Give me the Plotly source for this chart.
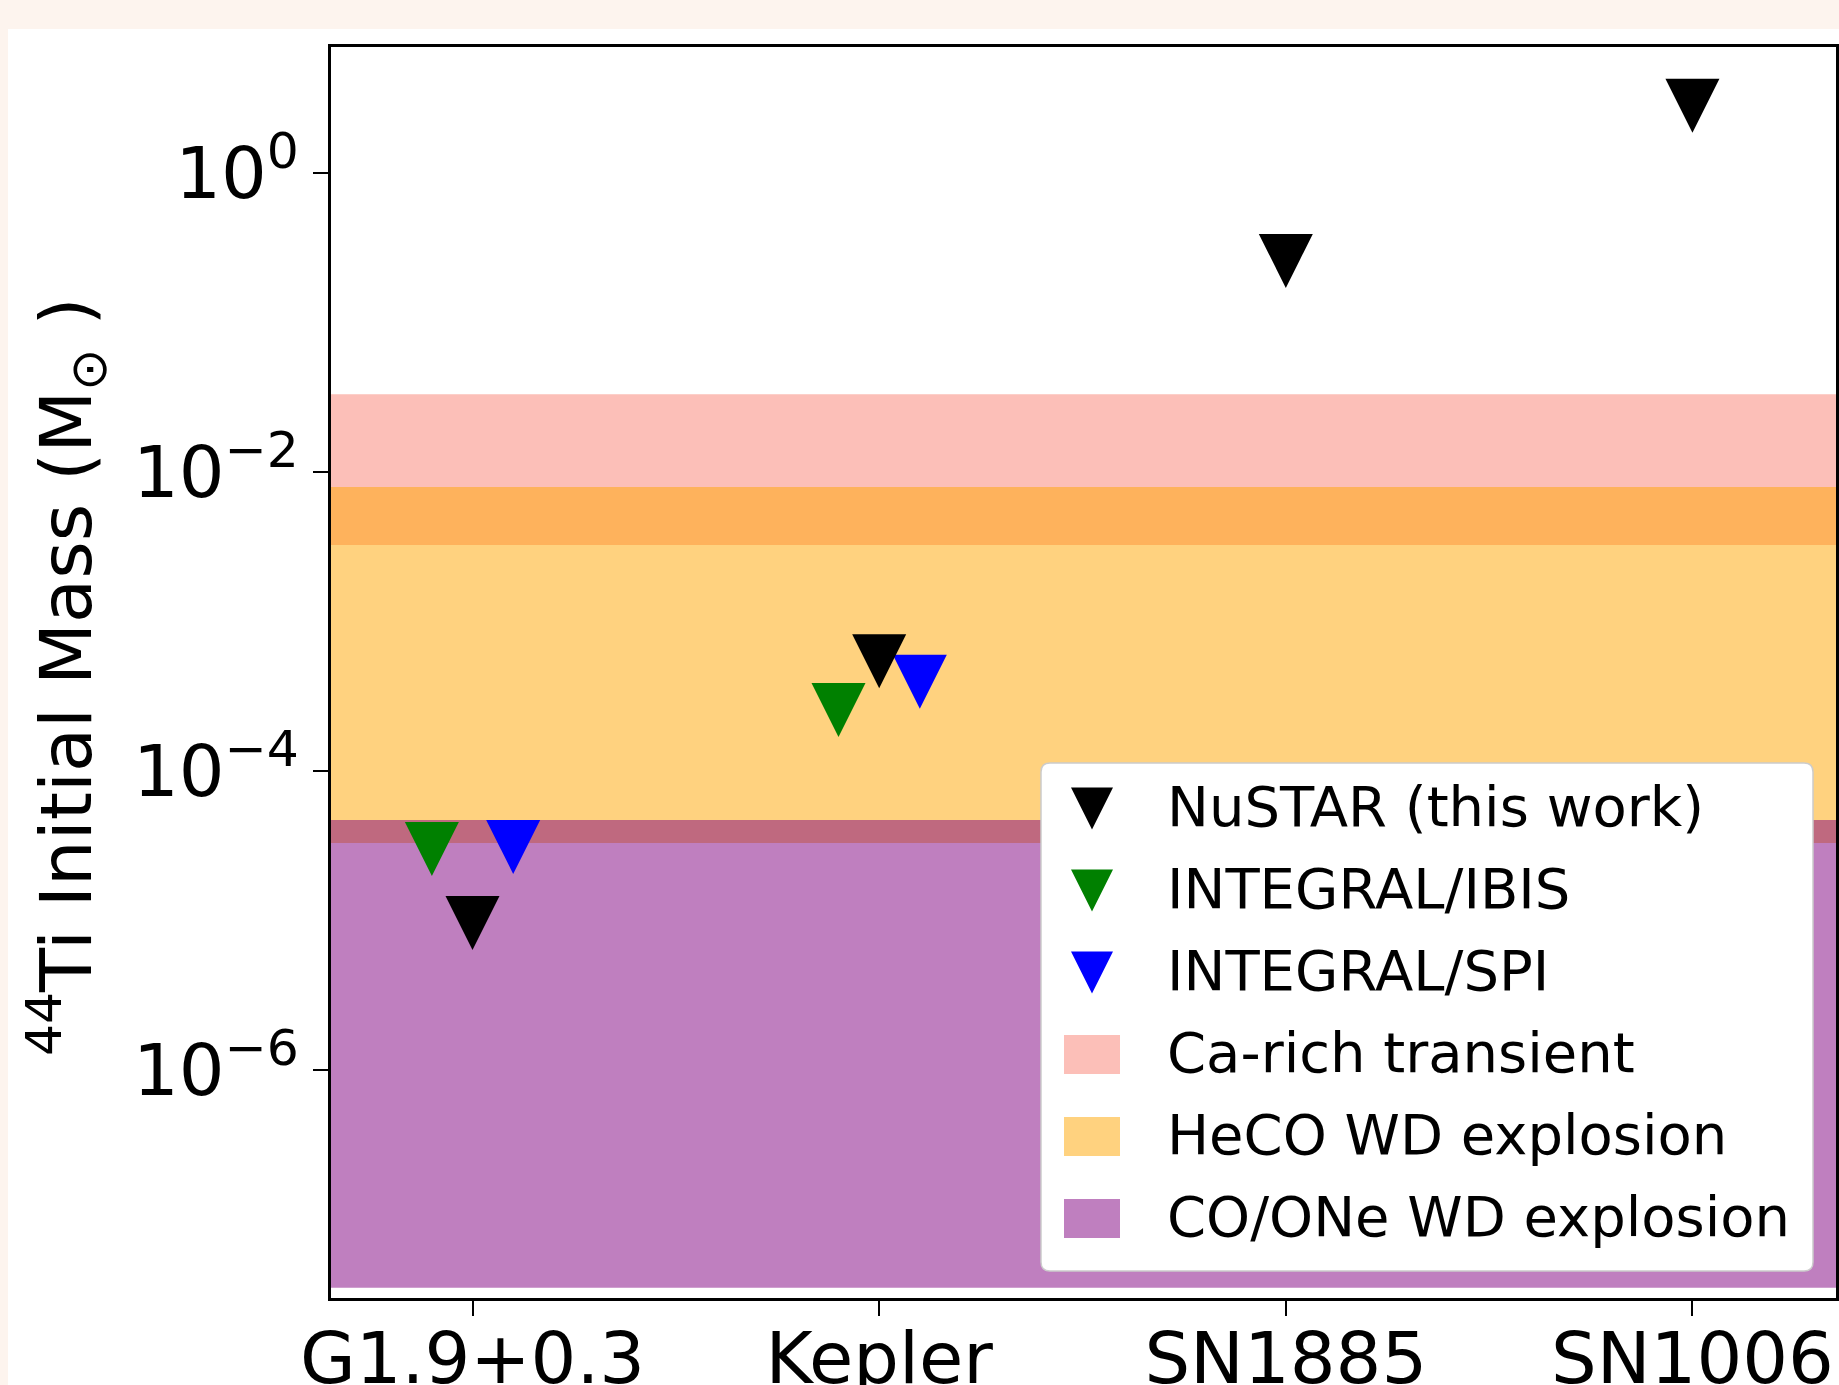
import plotly.graph_objects as go

# ---------------- data ----------------
remnants = ["G1.9+0.3", "Kepler", "SN1885", "SN1006"]

# 44Ti initial-mass upper limits (solar masses)
nustar_limits = [9.6e-6, 5.4e-4, 0.257, 2.8]
ibis_remnants = ["G1.9+0.3", "Kepler"]
ibis_limits = [3.0e-5, 2.55e-4]
spi_remnants = ["G1.9+0.3", "Kepler"]
spi_limits = [3.1e-5, 3.95e-4]

# model prediction ranges (solar masses)
band_names = ["Ca-rich transient", "HeCO WD explosion", "CO/ONe WD explosion"]
band_low = [3.24e-3, 3.3e-5, 3.5e-8]
band_high = [3.3e-2, 7.9e-3, 4.7e-5]

y_tickvals = [1e0, 1e-2, 1e-4, 1e-6]
y_ticktext = ["10<sup>0</sup>", "10<sup>\u22122</sup>", "10<sup>\u22124</sup>", "10<sup>\u22126</sup>"]

# ---------------- styling ----------------
W, H = 1839, 1385
ML, MR, MT, MB = 331, 3, 47, 87
PW, PH = W - ML - MR, H - MT - MB
FONT = "DejaVu Sans"

point_colors = ["black", "green", "blue"]
band_colors = ["rgba(250,128,114,0.5)", "rgba(255,165,0,0.5)", "rgba(128,0,128,0.5)"]
offset = 0.1          # horizontal shift of the INTEGRAL points
marker_px = 54
legend_marker_px = 42


def px_x(px):
    return (px - ML) / PW


def px_y(py):
    return (H - MB - py) / PH


pos = {name: i for i, name in enumerate(remnants)}

fig = go.Figure()


def limit_trace(xs, ys, color, name):
    return go.Scatter(
        x=xs, y=ys, mode="markers", name=name, showlegend=False,
        marker=dict(symbol="arrow-down", size=marker_px, color=color,
                    standoff=marker_px / 2, line=dict(width=0)),
        cliponaxis=False,
    )


fig.add_trace(limit_trace([pos[r] - offset for r in ibis_remnants], ibis_limits,
                          point_colors[1], "INTEGRAL/IBIS"))
fig.add_trace(limit_trace([pos[r] + offset for r in spi_remnants], spi_limits,
                          point_colors[2], "INTEGRAL/SPI"))
fig.add_trace(limit_trace([pos[r] for r in remnants], nustar_limits,
                          point_colors[0], "NuSTAR (this work)"))

shapes = []
# white figure area over the tinted page edge
shapes.append(dict(type="rect", xref="paper", yref="paper",
                   x0=px_x(8), x1=px_x(W + 5), y0=px_y(29), y1=px_y(H + 5),
                   fillcolor="white", line=dict(width=0), layer="below"))
# model bands
for lo, hi, col in zip(band_low, band_high, band_colors):
    shapes.append(dict(type="rect", xref="x domain", yref="y", x0=0, x1=1,
                       y0=lo, y1=hi, fillcolor=col, line=dict(width=0), layer="below"))

# ---------------- legend (drawn by hand for large glyphs) ----------------
lx0, lx1, ly0, ly1 = 1041, 1813, 763, 1271
rad = 9
bx = [px_x(v) for v in (lx0, lx0 + rad, lx1 - rad, lx1)]
by = [px_y(v) for v in (ly0, ly0 + rad, ly1 - rad, ly1)]
box_path = (
    f"M{bx[1]},{by[0]} L{bx[2]},{by[0]} Q{bx[3]},{by[0]} {bx[3]},{by[1]} "
    f"L{bx[3]},{by[2]} Q{bx[3]},{by[3]} {bx[2]},{by[3]} "
    f"L{bx[1]},{by[3]} Q{bx[0]},{by[3]} {bx[0]},{by[2]} "
    f"L{bx[0]},{by[1]} Q{bx[0]},{by[0]} {bx[1]},{by[0]} Z"
)
shapes.append(dict(type="path", xref="paper", yref="paper", path=box_path,
                   fillcolor="white", line=dict(color="#cccccc", width=1.5), layer="below"))

row0, row_step = 808.5, 82.0
glyph_cx = 1092
text_x = 1165
legend_labels = ["NuSTAR (this work)", "INTEGRAL/IBIS", "INTEGRAL/SPI"] + band_names
rows = [row0 + i * row_step for i in range(len(legend_labels))]

for i, col in enumerate(band_colors):
    cy = rows[3 + i]
    shapes.append(dict(type="rect", xref="paper", yref="paper",
                       x0=px_x(glyph_cx - 28), x1=px_x(glyph_cx + 28),
                       y0=px_y(cy + 19.5), y1=px_y(cy - 19.5),
                       fillcolor=col, line=dict(width=0), layer="below"))

fig.add_trace(go.Scatter(
    x=[px_x(glyph_cx)] * 3, y=[px_y(r) for r in rows[:3]],
    xaxis="x2", yaxis="y2", mode="markers", showlegend=False, hoverinfo="skip",
    marker=dict(symbol="arrow-down", size=legend_marker_px, color=point_colors,
                standoff=legend_marker_px / 2, line=dict(width=0)),
    cliponaxis=False,
))

annotations = []
for label, cy in zip(legend_labels, rows):
    annotations.append(dict(xref="paper", yref="paper", x=px_x(text_x), y=px_y(cy - 2),
                            text=label, showarrow=False, xanchor="left", yanchor="middle",
                            font=dict(family=FONT, size=56, color="black")))

# y-axis title
annotations.append(dict(xref="paper", yref="paper", x=px_x(66), y=px_y(677),
                        text="<sup>44</sup>Ti Initial Mass (M<sub>\u2299</sub> )",
                        textangle=-90, showarrow=False, xanchor="center", yanchor="middle",
                        font=dict(family=FONT, size=72, color="black")))

axis_common = dict(showline=True, linecolor="black", linewidth=2.5, mirror=True,
                   ticks="outside", ticklen=15, tickwidth=2, tickcolor="black",
                   showgrid=False, zeroline=False, automargin=False,
                   tickfont=dict(family=FONT, size=72, color="black"))

fig.update_layout(
    width=W, height=H,
    margin=dict(l=ML, r=MR, t=MT, b=MB, autoexpand=False),
    paper_bgcolor="#fdf4ee", plot_bgcolor="white",
    showlegend=False,
    shapes=shapes, annotations=annotations,
    xaxis=dict(range=[-0.348, 3.353], tickvals=list(range(len(remnants))),
               ticktext=remnants, ticklabelstandoff=-19, **axis_common),
    yaxis=dict(type="log", range=[-7.5246, 0.8405], tickvals=y_tickvals,
               ticktext=y_ticktext, **axis_common),
    xaxis2=dict(range=[0, 1], overlaying="x", visible=False, domain=[0, 1],
                automargin=False),
    yaxis2=dict(range=[0, 1], overlaying="y", visible=False, domain=[0, 1],
                automargin=False),
)

fig.write_html("out.html")
